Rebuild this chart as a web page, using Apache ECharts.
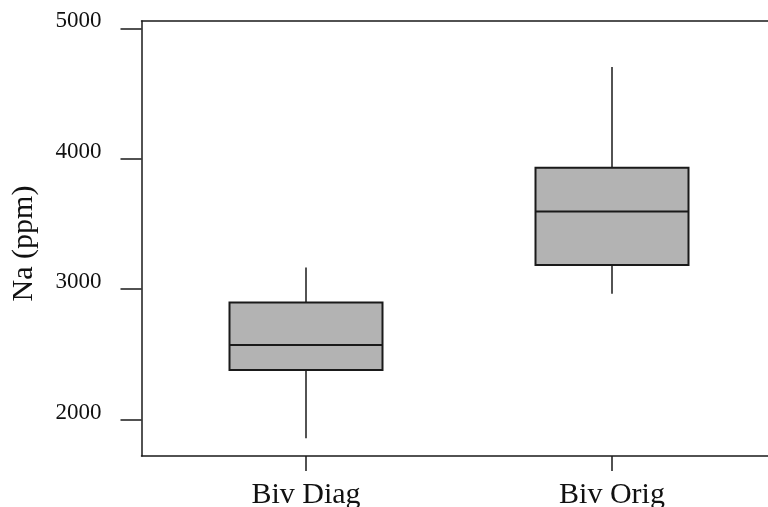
<!DOCTYPE html>
<html>
<head>
<meta charset="utf-8">
<script src="https://cdn.jsdelivr.net/npm/echarts@6/dist/echarts.min.js"></script>
<style>
html,body{margin:0;padding:0;background:#fff;}
#chart{width:768px;height:507px;}
</style>
</head>
<body>
<div id="chart"></div>
<script>
// Data
var categories = ['Biv Diag', 'Biv Orig'];
var whiskerLow = [1857, 2965];
var quartile1 = [2381, 3185];
var medians = [2573, 3596];
var quartile3 = [2898, 3932];
var whiskerHigh = [3166, 4704];
var yTickValues = [2000, 3000, 4000, 5000];

var boxData = categories.map(function (c, i) {
  return [i, whiskerLow[i], quartile1[i], medians[i], quartile3[i], whiskerHigh[i]];
});

var FONT = 'Liberation Serif, Times New Roman, serif';
var LINE = '#1a1a1a';
var frameLine = {show: true, lineStyle: {color: LINE, width: 1.5}};
var chart = echarts.init(document.getElementById('chart'), null, {renderer: 'canvas'});

chart.setOption({
  animation: false,
  backgroundColor: '#ffffff',
  grid: [
    {left: 153, right: 3, top: 21, bottom: 51, show: false, containLabel: false, outerBoundsMode: 'none'},
    {left: 141.5, right: 0, top: 21, bottom: 51, show: false, containLabel: false, outerBoundsMode: 'none'}
  ],
  xAxis: [
    {
      type: 'category', gridIndex: 0, data: categories, boundaryGap: true,
      axisLine: {show: false},
      axisTick: {show: true, alignWithLabel: true, length: 15, inside: false,
                 lineStyle: {color: LINE, width: 1.5}},
      axisLabel: {show: true, margin: 24, color: '#111', fontFamily: FONT, fontSize: 30},
      splitLine: {show: false}
    },
    {type: 'value', gridIndex: 1, position: 'bottom', axisLine: frameLine,
     axisTick: {show: false}, axisLabel: {show: false}, splitLine: {show: false}},
    {type: 'value', gridIndex: 1, position: 'top', axisLine: frameLine,
     axisTick: {show: false}, axisLabel: {show: false}, splitLine: {show: false}}
  ],
  yAxis: [
    {
      type: 'value', gridIndex: 0, min: 1721, max: 5057, offset: 11.5,
      name: 'Na (ppm)', nameLocation: 'middle', nameGap: 102,
      nameTextStyle: {fontFamily: FONT, fontSize: 30, color: '#111', padding: [0, 10, 0, 0]},
      axisLine: {show: false},
      axisTick: {show: true, length: 21, customValues: yTickValues,
                 lineStyle: {color: LINE, width: 1.5}},
      axisLabel: {show: true, margin: 40, customValues: yTickValues,
                  formatter: function (v) { return String(v); },
                  color: '#111', fontFamily: FONT, fontSize: 23,
                  verticalAlign: 'bottom', lineHeight: 14},
      splitLine: {show: false}
    },
    {type: 'value', gridIndex: 1, position: 'left', axisLine: frameLine,
     axisTick: {show: false}, axisLabel: {show: false}, splitLine: {show: false}}
  ],
  series: [{
    type: 'custom',
    xAxisIndex: 0, yAxisIndex: 0,
    data: boxData,
    encode: {x: 0, y: [1, 2, 3, 4, 5]},
    renderItem: function (params, api) {
      var x = api.value(0);
      var lo = api.coord([x, api.value(1)]);
      var q1 = api.coord([x, api.value(2)]);
      var md = api.coord([x, api.value(3)]);
      var q3 = api.coord([x, api.value(4)]);
      var hi = api.coord([x, api.value(5)]);
      var halfW = api.size([1, 0])[0] * 0.25;
      var ls = {stroke: LINE, lineWidth: 1.5};
      return {
        type: 'group',
        children: [
          {type: 'line', shape: {x1: lo[0], y1: lo[1], x2: q1[0], y2: q1[1]}, style: ls},
          {type: 'line', shape: {x1: q3[0], y1: q3[1], x2: hi[0], y2: hi[1]}, style: ls},
          {type: 'rect', shape: {x: q3[0] - halfW, y: q3[1], width: 2 * halfW, height: q1[1] - q3[1]},
           style: {fill: '#b3b3b3', stroke: LINE, lineWidth: 2}},
          {type: 'line', shape: {x1: md[0] - halfW, y1: md[1], x2: md[0] + halfW, y2: md[1]},
           style: {stroke: LINE, lineWidth: 2}}
        ]
      };
    }
  }]
});
</script>
</body>
</html>
